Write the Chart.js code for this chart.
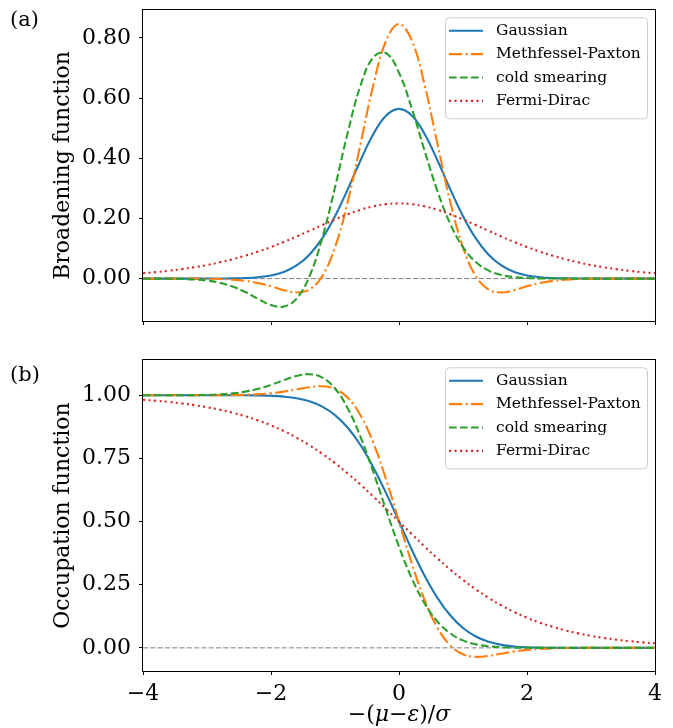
<!DOCTYPE html>
<html><head><meta charset="utf-8">
<script src="https://cdn.jsdelivr.net/npm/chart.js@4.4.1/dist/chart.umd.min.js"></script>
<style>
html,body{margin:0;padding:0;background:#fff;}
#wrap{position:relative;width:673px;height:728px;overflow:hidden;background:#fff;}
canvas{position:absolute;left:0;}
</style></head><body>
<div id="wrap">
<canvas id="cTop" width="673" height="345" style="top:0px"></canvas>
<canvas id="cBot" width="673" height="383" style="top:345px"></canvas>
</div>
<script>
// ---- data ----
const xs = [-4,-3.8,-3.6,-3.4,-3.2,-3,-2.8,-2.6,-2.4,-2.2,-2,-1.8,-1.6,-1.4,-1.2,-1,-0.8,-0.6,-0.4,-0.2,0,0.2,0.4,0.6,0.8,1,1.2,1.4,1.6,1.8,2,2.2,2.4,2.6,2.8,3,3.2,3.4,3.6,3.8,4];
const seriesNames = ['Gaussian','Methfessel-Paxton','cold smearing','Fermi-Dirac'];

const gaussBroad = [0,0,0,0,0,0.0001,0.0002,0.0007,0.0018,0.0045,0.0103,0.0221,0.0436,0.0795,0.1337,0.2076,0.2975,0.3936,0.4808,0.5421,0.5642,0.5421,0.4808,0.3936,0.2975,0.2076,0.1337,0.0795,0.0436,0.0221,0.0103,0.0045,0.0018,0.0007,0.0002,0.0001,0,0,0,0,0];
const mpBroad = [0,0,0,0,-0.0002,-0.0005,-0.0014,-0.0034,-0.0077,-0.0150,-0.0258,-0.0385,-0.0462,-0.0366,0.0080,0.1038,0.2559,0.4487,0.6443,0.7915,0.8463,0.7915,0.6443,0.4487,0.2559,0.1038,0.0080,-0.0366,-0.0462,-0.0385,-0.0258,-0.0150,-0.0077,-0.0034,-0.0014,-0.0005,-0.0002,0,0,0,0];
const coldBroad = [0,-0.0001,-0.0004,-0.0011,-0.0029,-0.0066,-0.0139,-0.0263,-0.0448,-0.0675,-0.0879,-0.0932,-0.0668,0.0070,0.1341,0.3033,0.4859,0.6423,0.7364,0.7492,0.6844,0.5657,0.4250,0.2911,0.1823,0.1045,0.0549,0.0265,0.0117,0.0048,0.0018,0.0006,0.0002,0.0001,0,0,0,0,0,0,0];
const fdBroad = [0.0177,0.0214,0.0259,0.0313,0.0376,0.0452,0.0540,0.0644,0.0763,0.0898,0.1050,0.1217,0.1398,0.1587,0.1779,0.1966,0.2139,0.2288,0.2403,0.2475,0.25,0.2475,0.2403,0.2288,0.2139,0.1966,0.1779,0.1587,0.1398,0.1217,0.1050,0.0898,0.0763,0.0644,0.0540,0.0452,0.0376,0.0313,0.0259,0.0214,0.0177];

const gaussOcc = [1,1,1,1,1,1,1,0.9999,0.9997,0.9991,0.9977,0.9945,0.9882,0.9761,0.9552,0.9214,0.8711,0.8019,0.7142,0.6114,0.5,0.3886,0.2858,0.1981,0.1290,0.0787,0.0448,0.0239,0.0118,0.0055,0.0023,0.0009,0.0003,0.0001,0,0,0,0,0,0,0];
const mpOcc = [1,1,1,1,1,1.0001,1.0003,1.0007,1.0018,1.0040,1.0080,1.0144,1.0231,1.0318,1.0354,1.0251,0.9900,0.9200,0.8103,0.6656,0.5,0.3344,0.1897,0.0800,0.0100,-0.0251,-0.0354,-0.0318,-0.0231,-0.0144,-0.0080,-0.0040,-0.0018,-0.0007,-0.0003,-0.0001,0,0,0,0,0];
const coldOcc = [1,1,1.0001,1.0002,1.0006,1.0015,1.0035,1.0074,1.0144,1.0256,1.0412,1.0597,1.0764,1.0833,1.0700,1.0268,0.9478,0.8342,0.6951,0.5451,0.4006,0.2750,0.1758,0.1045,0.0577,0.0295,0.0140,0.0062,0.0025,0.0009,0.0003,0.0001,0,0,0,0,0,0,0,0,0];
const fdOcc = [0.9820,0.9781,0.9734,0.9677,0.9608,0.9526,0.9427,0.9309,0.9168,0.9002,0.8808,0.8581,0.8320,0.8022,0.7685,0.7311,0.6900,0.6457,0.5987,0.5498,0.5,0.4502,0.4013,0.3543,0.3100,0.2689,0.2315,0.1978,0.1680,0.1419,0.1192,0.0998,0.0832,0.0691,0.0573,0.0474,0.0392,0.0323,0.0266,0.0219,0.0180];

const refX = [-4, 4];
const refY = [0, 0];

const xTickVals = [-4,-2,0,2,4];
const xTickLabels = ['\u22124','\u22122','0','2','4'];
const yTickValsTop = [0,0.2,0.4,0.6,0.8];
const yTickLabelsTop = ['0.00','0.20','0.40','0.60','0.80'];
const yTickValsBot = [0,0.25,0.5,0.75,1.0];
const yTickLabelsBot = ['0.00','0.25','0.50','0.75','1.00'];

// ---- style ----
const SERIF = "'DejaVu Serif', serif";
const COLORS = ['#1f77b4','#ff7f0e','#2ca02c','#d62728'];
const DASHES = [[], [13.3,3.3,2.1,3.3], [7.7,3.3], [2.1,3.4]];

function pts(ys){ return xs.map((x,i)=>({x:x, y:ys[i]})); }

function makeDatasets(arrs){
  const ds = arrs.map((a,i)=>({
    label: seriesNames[i], data: pts(a), borderColor: COLORS[i], backgroundColor: COLORS[i],
    borderWidth: 2.1, borderDash: DASHES[i], borderCapStyle: 'butt', pointRadius: 0,
    tension: 0.4, fill: false, order: 4 - i
  }));
  ds.push({label: '_ref', data: refX.map((x,i)=>({x:x, y:refY[i]})), borderColor:'#808080',
    borderWidth: 1, borderDash:[5.1,2.2], pointRadius:0, tension:0, fill:false, order: 10});
  return ds;
}

const figPlugin = {
  id: 'fig',
  afterDraw(chart, args, opts){
    const ctx = chart.ctx, a = chart.chartArea;
    ctx.save();
    // frame
    ctx.strokeStyle = '#000'; ctx.lineWidth = 1; ctx.setLineDash([]);
    ctx.strokeRect(Math.round(a.left)-0.5, Math.round(a.top)-0.5, Math.round(a.right)-Math.round(a.left)+1, Math.round(a.bottom)-Math.round(a.top)+1);
    // panel label
    ctx.fillStyle = '#000'; ctx.font = '21px ' + SERIF; ctx.textAlign='left'; ctx.textBaseline='middle';
    ctx.fillText(opts.panel, 10, opts.panelY);
    // legend
    const x0 = a.right - 210, y0 = a.top + 7.3, w = 202, h = 101;
    ctx.beginPath();
    ctx.roundRect(x0+0.5, y0+0.5, w, h, 4);
    ctx.fillStyle = 'rgba(255,255,255,0.8)'; ctx.fill();
    ctx.strokeStyle = '#cccccc'; ctx.lineWidth = 1; ctx.stroke();
    const dsets = chart.data.datasets.filter(d=>d.label[0] !== '_');
    dsets.forEach((d,i)=>{
      const y = y0 + 13.4 + i*23.4;
      ctx.beginPath(); ctx.setLineDash(d.borderDash); ctx.lineCap='butt';
      ctx.strokeStyle = d.borderColor; ctx.lineWidth = d.borderWidth;
      ctx.moveTo(x0+4, y); ctx.lineTo(x0+38, y); ctx.stroke();
      ctx.setLineDash([]);
      ctx.fillStyle = '#000'; ctx.font = '15.5px ' + SERIF; ctx.textAlign='left'; ctx.textBaseline='middle';
      ctx.fillText(d.label, x0+51, y);
    });
    // x title (mixed upright / italic)
    if (opts.xTitle) {
      const segs = [['\u2212(', ''], ['\u03bc','italic '], ['\u2212',''], ['\u03b5','italic '], [')/',''], ['\u03c3','italic ']];
      let total = 0;
      segs.forEach(s=>{ ctx.font = s[1] + '22px ' + SERIF; total += ctx.measureText(s[0]).width; });
      let x = (a.left + a.right)/2 - total/2;
      ctx.textAlign='left'; ctx.textBaseline='middle'; ctx.fillStyle='#000';
      segs.forEach(s=>{ ctx.font = s[1] + '22px ' + SERIF; ctx.fillText(s[0], x, opts.xTitleY); x += ctx.measureText(s[0]).width; });
    }
    ctx.restore();
  }
};

function makeChart(id, arrs, ymin, ymax, yVals, yLabels, yTitle, showXLabels, padTop, xHeight, panel, panelY, xTitleY){
  return new Chart(document.getElementById(id), {
    type: 'line',
    data: { datasets: makeDatasets(arrs) },
    options: {
      responsive: false, animation: false, events: [],
      layout: { padding: { left: 0, right: 18, top: padTop, bottom: 0 } },
      plugins: { legend: { display: false }, tooltip: { enabled: false }, fig: { panel: panel, panelY: panelY, xTitle: showXLabels, xTitleY: xTitleY } },
      scales: {
        x: {
          type: 'linear', min: -4, max: 4,
          afterBuildTicks: s => { s.ticks = xTickVals.map(v=>({value:v})); },
          afterFit: s => { s.height = xHeight; s.paddingLeft = 0; s.paddingRight = 0; },
          grid: { drawOnChartArea: false, drawTicks: true, tickLength: 4, color: '#000', lineWidth: 1 },
          border: { display: false },
          ticks: { display: showXLabels, padding: 6, color: '#000', font: { family: SERIF, size: 22 },
            maxRotation: 0, autoSkip: false,
            callback: v => { const k = xTickVals.indexOf(v); return k >= 0 ? xTickLabels[k] : ''; } }
        },
        y: {
          type: 'linear', min: ymin, max: ymax,
          afterBuildTicks: s => { s.ticks = yVals.map(v=>({value:v})); },
          afterFit: s => { s.width = 143; s.paddingTop = 0; s.paddingBottom = 0; },
          grid: { drawOnChartArea: false, drawTicks: true, tickLength: 4, color: '#000', lineWidth: 1 },
          border: { display: false },
          ticks: { padding: 8, color: '#000', font: { family: SERIF, size: 22 }, autoSkip: false,
            callback: v => { const k = yVals.indexOf(v); return k >= 0 ? yLabels[k] : ''; } },
          title: { display: true, text: yTitle, color: '#000', font: { family: SERIF, size: 22 }, padding: { top: 50, bottom: 0 } }
        }
      }
    },
    plugins: [figPlugin]
  });
}

makeChart('cTop', [gaussBroad, mpBroad, coldBroad, fdBroad], -0.141, 0.893, yTickValsTop, yTickLabelsTop,
  'Broadening function', false, 10, 24, '(a)', 20.5, 0);
makeChart('cBot', [gaussOcc, mpOcc, coldOcc, fdOcc], -0.0916, 1.1395, yTickValsBot, yTickLabelsBot,
  'Occupation function', true, 15, 57, '(b)', 30.5, 370);
</script>
</body></html>
